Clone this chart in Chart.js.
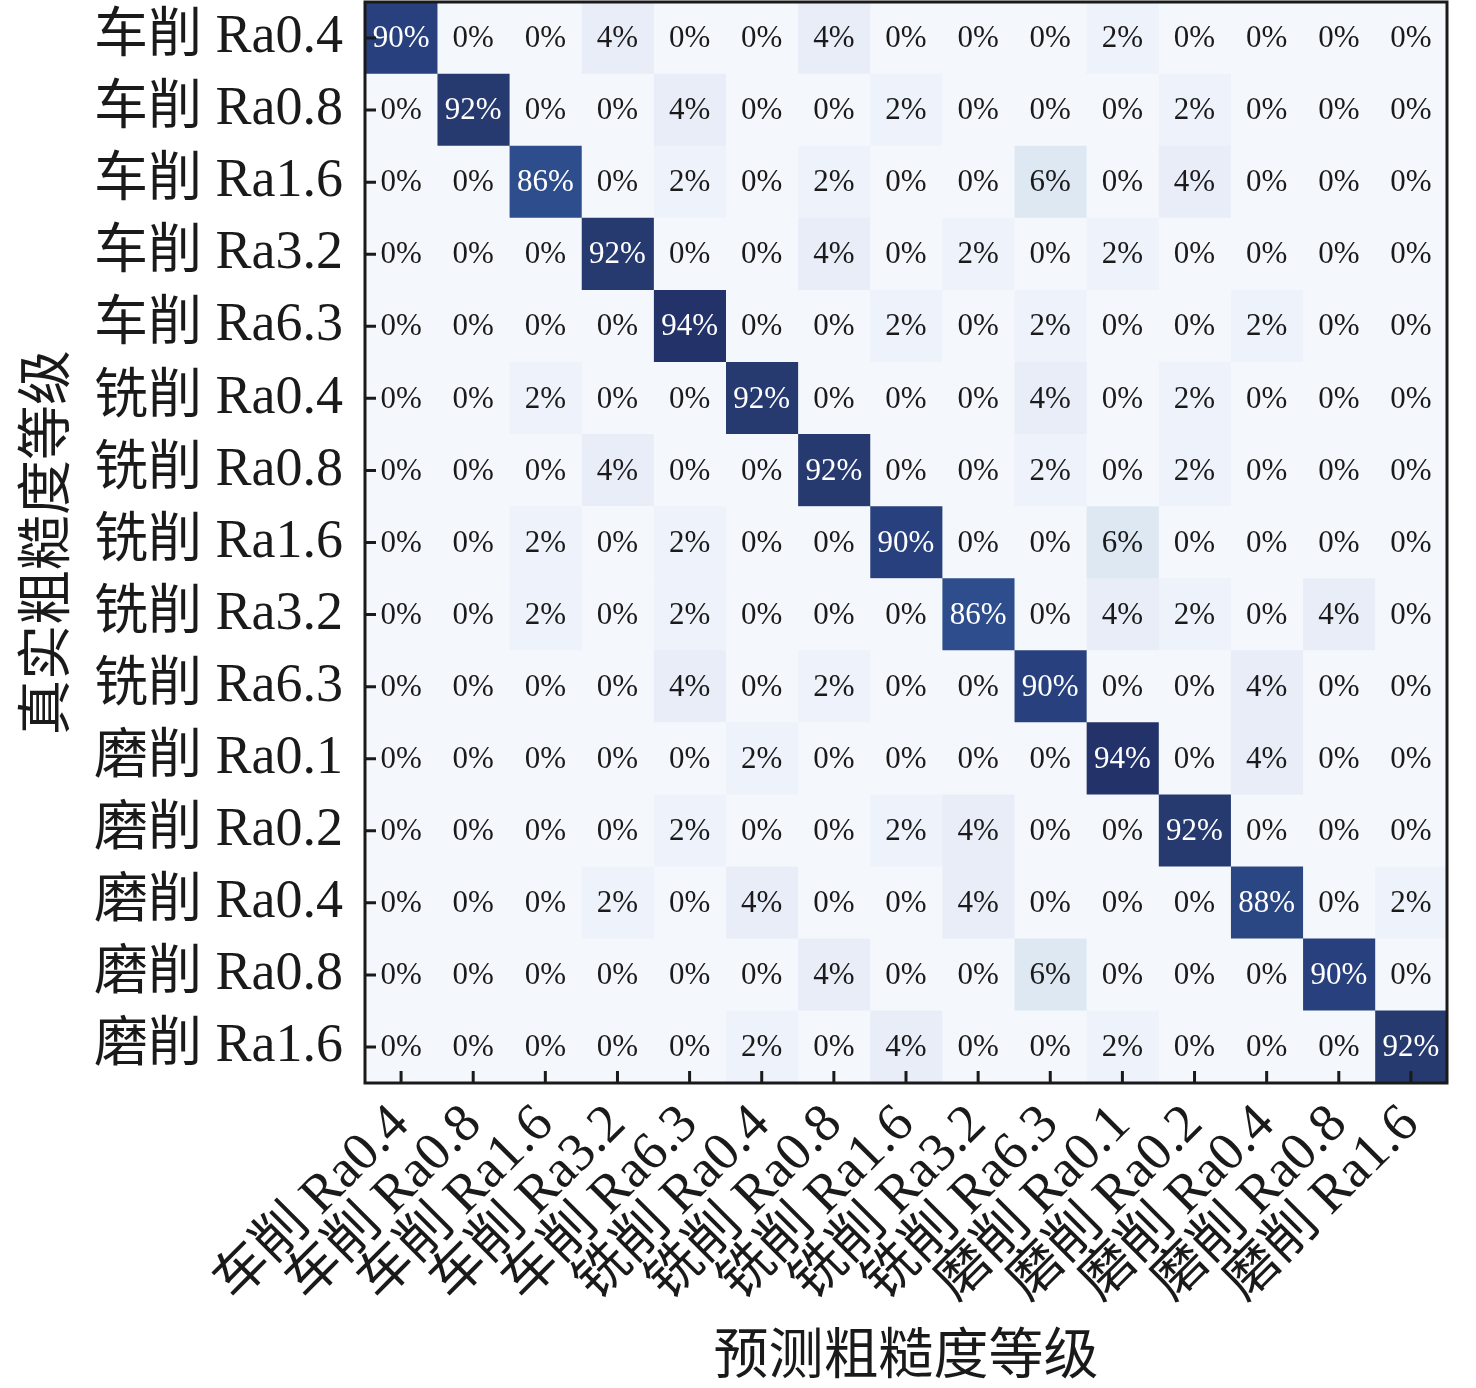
<!DOCTYPE html>
<html>
<head>
<meta charset="utf-8">
<script src="https://cdn.jsdelivr.net/npm/chart.js@4.4.0/dist/chart.umd.min.js"></script>
<style>
	body{margin:0;background:#fff;}
	#wrap{width:1476px;height:1388px;}
</style>
</head>
<body>
<div id="wrap"><canvas id="mycanvas" width="1476" height="1388"></canvas></div>
<script>
// true classes (rows) and predicted classes (columns)
var trueLabels=['车削 Ra0.4','车削 Ra0.8','车削 Ra1.6','车削 Ra3.2','车削 Ra6.3',
	'铣削 Ra0.4','铣削 Ra0.8','铣削 Ra1.6','铣削 Ra3.2','铣削 Ra6.3',
	'磨削 Ra0.1','磨削 Ra0.2','磨削 Ra0.4','磨削 Ra0.8','磨削 Ra1.6'];
var predLabels=trueLabels.slice();

// percentage of each true class predicted as each column
var rates=[
	[90,0,0,4,0,0,4,0,0,0,2,0,0,0,0],
	[0,92,0,0,4,0,0,2,0,0,0,2,0,0,0],
	[0,0,86,0,2,0,2,0,0,6,0,4,0,0,0],
	[0,0,0,92,0,0,4,0,2,0,2,0,0,0,0],
	[0,0,0,0,94,0,0,2,0,2,0,0,2,0,0],
	[0,0,2,0,0,92,0,0,0,4,0,2,0,0,0],
	[0,0,0,4,0,0,92,0,0,2,0,2,0,0,0],
	[0,0,2,0,2,0,0,90,0,0,6,0,0,0,0],
	[0,0,2,0,2,0,0,0,86,0,4,2,0,4,0],
	[0,0,0,0,4,0,2,0,0,90,0,0,4,0,0],
	[0,0,0,0,0,2,0,0,0,0,94,0,4,0,0],
	[0,0,0,0,2,0,0,2,4,0,0,92,0,0,0],
	[0,0,0,2,0,4,0,0,4,0,0,0,88,0,2],
	[0,0,0,0,0,0,4,0,0,6,0,0,0,90,0],
	[0,0,0,0,0,2,0,4,0,0,2,0,0,0,92]
];

var xTitle='预测粗糙度等级';
var yTitle='真实粗糙度等级';

// colour ramp (value -> rgb)
var colorStops=[
	[0,[244,248,252]],[2,[238,242,250]],[4,[232,237,248]],[6,[221,232,243]],
	[86,[45,77,141]],[88,[42,70,131]],[90,[40,64,125]],[92,[38,58,112]],[94,[35,51,106]],[100,[28,38,88]]
];
function cellColor(v){
	for(var k=1;k<colorStops.length;k++){
		var a=colorStops[k-1],b=colorStops[k];
		if(v<=b[0]){
			var t=(v-a[0])/(b[0]-a[0]);
			var c=a[1].map(function(x,n){return Math.round(x+(b[1][n]-x)*t);});
			return 'rgb('+c.join(',')+')';
		}
	}
	return 'rgb(28,38,88)';
}

var serif='"Liberation Serif", "Noto Sans CJK SC", serif';
Chart.defaults.font.family=serif;
Chart.defaults.color='#1a1a1a';

var datasets=predLabels.map(function(name,j){
	return {
		label:name,
		data:trueLabels.map(function(){return 1;}),
		backgroundColor:rates.map(function(row){return cellColor(row[j]);}),
		barPercentage:1,
		categoryPercentage:1,
		borderWidth:0
	};
});

var matrixDecor={
	id:'matrixDecor',
	afterDatasetsDraw:function(chart){
		var ctx=chart.ctx,area=chart.chartArea;
		var xs=chart.scales.x,ys=chart.scales.y;
		ctx.save();
		ctx.font='31px '+serif;
		ctx.textAlign='center';
		ctx.textBaseline='middle';
		chart.data.datasets.forEach(function(ds,j){
			chart.getDatasetMeta(j).data.forEach(function(bar,i){
				var v=rates[i][j];
				ctx.fillStyle=v>50?'#ffffff':'#1a1a1a';
				ctx.fillText(v+'%',(bar.x+bar.base)/2,bar.y+1);
			});
		});
		ctx.strokeStyle='#1a1a1a';
		ctx.lineWidth=3;
		ctx.beginPath();
		ys.ticks.forEach(function(t,i){
			var py=ys.getPixelForTick(i);
			ctx.moveTo(area.left,py);ctx.lineTo(area.left+11,py);
		});
		xs.ticks.forEach(function(t,i){
			var px=xs.getPixelForTick(i);
			ctx.moveTo(px,area.bottom);ctx.lineTo(px,area.bottom-12);
		});
		ctx.stroke();
		ctx.strokeRect(area.left,area.top,area.right-area.left,area.bottom-area.top);
		ctx.restore();
	}
};

var ctx=document.getElementById('mycanvas');
var heatmap=new Chart(ctx,{
	type:'bar',
	data:{labels:trueLabels,datasets:datasets},
	plugins:[matrixDecor],
	options:{
		indexAxis:'y',
		responsive:false,
		devicePixelRatio:1,
		animation:false,
		layout:{padding:{left:0,right:29,top:2,bottom:0}},
		plugins:{legend:{display:false},tooltip:{enabled:false}},
		scales:{
			x:{
				type:'linear',
				stacked:true,
				min:0,
				max:predLabels.length,
				grid:{display:false},
				border:{display:false},
				afterBuildTicks:function(scale){
					scale.ticks=predLabels.map(function(n,i){return {value:i+0.5};});
				},
				ticks:{
					autoSkip:false,
					maxRotation:45,
					minRotation:45,
					padding:2,
					font:{size:54},
					color:'#1a1a1a',
					callback:function(v,i){return predLabels[i];}
				},
				title:{display:true,text:xTitle,font:{size:55,lineHeight:1},color:'#1a1a1a',padding:{top:2,bottom:2}},
				afterFit:function(scale){
					scale.height=305;
					scale.paddingLeft=0;scale.paddingRight=0;
				}
			},
			y:{
				stacked:true,
				grid:{display:false,drawTicks:false},
				border:{display:false},
				ticks:{padding:22,font:{size:54},color:'#1a1a1a'},
				title:{display:true,text:yTitle,font:{size:55},color:'#1a1a1a',padding:{top:17,bottom:17}},
				afterFit:function(scale){
					scale.width=365;
					scale.paddingTop=0;scale.paddingBottom=0;
				}
			}
		}
	}
});
</script>
</body>
</html>
